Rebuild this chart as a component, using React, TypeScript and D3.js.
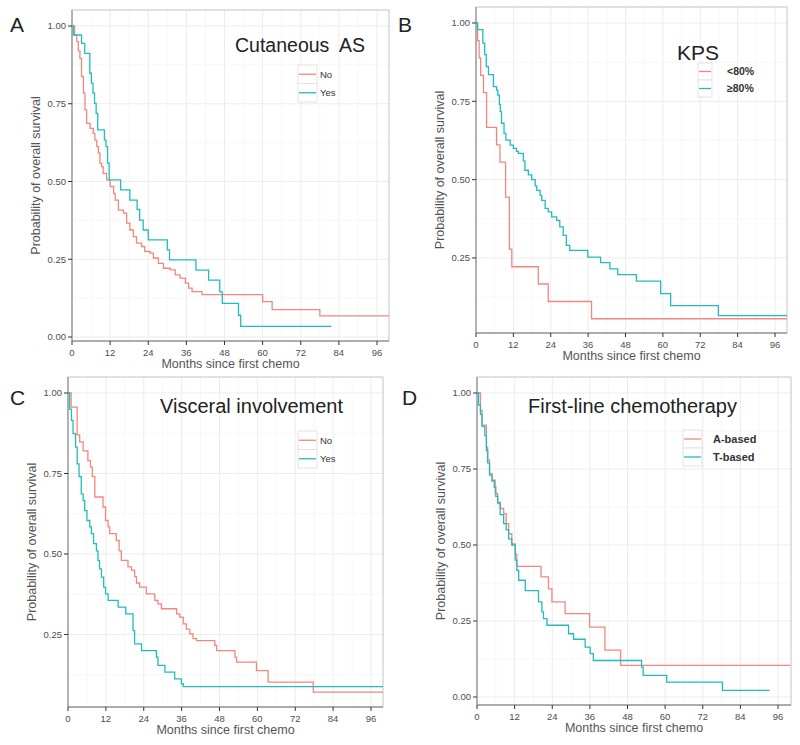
import React from 'react';
import * as d3 from 'd3';

// axis ticks shared by the four panels
const monthTicks = [0, 12, 24, 36, 48, 60, 72, 84, 96];
const survivalTicks = [0, 0.25, 0.5, 0.75, 1];

// A: cutaneous AS
const aNoTime = [0, 0.8, 1.5, 2, 2.5, 3, 3.6, 4.1, 4.6, 5.7, 6.7, 7.2, 7.8, 8.3, 8.8, 9.3, 9.8, 10.9, 12, 13.1, 13.6, 14.6, 16.2, 17.2, 18.2, 19.3, 20.3, 21.9, 22.9, 24.6, 25.6, 27.2, 28.8, 30.9, 32.5, 34, 35.7, 36.7, 37.8, 40.9, 60, 63, 78, 100];
const aNoSurv = [1, 0.97, 0.95, 0.92, 0.896, 0.837, 0.784, 0.73, 0.687, 0.671, 0.655, 0.633, 0.612, 0.591, 0.559, 0.548, 0.526, 0.505, 0.484, 0.462, 0.44, 0.408, 0.398, 0.366, 0.344, 0.323, 0.302, 0.291, 0.275, 0.27, 0.254, 0.237, 0.221, 0.216, 0.2, 0.189, 0.173, 0.157, 0.146, 0.136, 0.114, 0.088, 0.068, 0.068];
const aYesTime = [0, 0.4, 3, 4, 5.6, 6.1, 6.6, 7.1, 7.6, 8.1, 10.2, 10.7, 11.2, 11.7, 15.3, 18.2, 20.5, 21.3, 22.4, 24, 30, 30.7, 39, 43, 46.5, 47.3, 52.4, 53.1, 81.6];
const aYesSurv = [1, 0.971, 0.944, 0.912, 0.848, 0.816, 0.784, 0.751, 0.719, 0.666, 0.633, 0.612, 0.559, 0.505, 0.473, 0.44, 0.41, 0.376, 0.344, 0.312, 0.28, 0.248, 0.215, 0.183, 0.145, 0.108, 0.07, 0.034, 0.034];

// B: KPS
const bLowTime = [0, 0.5, 1, 1.5, 2.4, 3.4, 6.6, 7.7, 9.5, 10.7, 11.5, 20, 23.2, 37.1, 100];
const bLowSurv = [1, 0.944, 0.889, 0.833, 0.778, 0.667, 0.611, 0.556, 0.444, 0.278, 0.222, 0.167, 0.111, 0.056, 0.056];
const bHighTime = [0, 0.5, 2.2, 2.8, 3.3, 4, 5.6, 6.6, 7, 7.5, 7.8, 8.2, 9, 9.6, 11, 12, 13, 13.6, 15.2, 15.7, 16.8, 17.9, 19, 19.5, 20.6, 21.1, 22.2, 23.2, 24.3, 25.9, 26.9, 28, 29, 30.1, 35.9, 40, 43, 45.5, 51.5, 59.3, 62.5, 77.8, 100];
const bHighSurv = [1, 0.979, 0.936, 0.899, 0.861, 0.835, 0.797, 0.786, 0.77, 0.74, 0.717, 0.68, 0.648, 0.626, 0.61, 0.6, 0.59, 0.584, 0.56, 0.53, 0.515, 0.5, 0.48, 0.466, 0.45, 0.434, 0.408, 0.397, 0.381, 0.37, 0.349, 0.322, 0.29, 0.274, 0.253, 0.235, 0.215, 0.197, 0.176, 0.136, 0.098, 0.066, 0.066];

// C: visceral involvement
const cNoTime = [0, 1, 2.9, 3.7, 4.8, 6.3, 7.1, 7.7, 8.5, 11.1, 11.9, 12.7, 13.2, 15.3, 16.2, 16.9, 19, 20.1, 21.1, 21.7, 22.7, 24.8, 27.5, 28.5, 29.6, 34.4, 35.4, 36.5, 37.5, 38.6, 39.6, 40.7, 46.5, 47.1, 52.9, 53.4, 59.7, 63.4, 77.7, 100];
const cNoSurv = [1, 0.956, 0.87, 0.848, 0.82, 0.79, 0.77, 0.74, 0.677, 0.646, 0.604, 0.584, 0.563, 0.542, 0.51, 0.48, 0.46, 0.45, 0.43, 0.41, 0.397, 0.376, 0.356, 0.345, 0.33, 0.314, 0.304, 0.283, 0.267, 0.252, 0.237, 0.231, 0.216, 0.2, 0.18, 0.164, 0.138, 0.102, 0.071, 0.071];
const cYesTime = [0, 0.5, 1.1, 1.6, 2.4, 2.9, 3.5, 4.2, 4.8, 5.3, 6, 6.9, 7.4, 8.1, 9, 9.5, 10, 10.6, 11.3, 11.9, 12.7, 15.9, 18.3, 20.6, 21.1, 23.3, 28, 28.5, 30.7, 33.8, 35.9, 36.5, 100];
const cYesSurv = [1, 0.95, 0.915, 0.874, 0.832, 0.78, 0.74, 0.687, 0.666, 0.635, 0.604, 0.584, 0.563, 0.532, 0.51, 0.48, 0.454, 0.428, 0.397, 0.376, 0.356, 0.335, 0.314, 0.262, 0.221, 0.2, 0.18, 0.154, 0.133, 0.112, 0.097, 0.088, 0.088];

// D: first-line chemotherapy
const dATime = [0, 1.1, 1.6, 3, 3.4, 4, 4.8, 5.8, 6.6, 7.4, 8.5, 9.3, 10.1, 11.1, 12.2, 12.7, 20.4, 22.8, 23.9, 28.1, 35.9, 40.8, 45.8, 100];
const dASurv = [1, 0.943, 0.894, 0.822, 0.78, 0.735, 0.713, 0.67, 0.636, 0.62, 0.603, 0.57, 0.537, 0.504, 0.47, 0.43, 0.395, 0.356, 0.313, 0.274, 0.23, 0.154, 0.104, 0.104];
const dTTime = [0, 0.5, 1.1, 1.6, 2.5, 3, 3.4, 4, 4.8, 5.5, 6, 6.6, 7.4, 8.5, 9.3, 10.1, 11.1, 12.2, 12.7, 13.3, 15.4, 19.6, 20.7, 21.2, 22.3, 29.2, 30.8, 34.5, 36.1, 37.1, 52.5, 53, 60.5, 78.3, 93.3];
const dTSurv = [1, 0.96, 0.93, 0.89, 0.86, 0.81, 0.77, 0.73, 0.71, 0.69, 0.66, 0.64, 0.6, 0.57, 0.55, 0.52, 0.5, 0.45, 0.417, 0.384, 0.35, 0.313, 0.28, 0.258, 0.236, 0.208, 0.19, 0.164, 0.143, 0.12, 0.098, 0.071, 0.049, 0.022, 0.022];

const RED = '#F2877F';
const TEAL = '#22BCBF';
const FONT = "'Liberation Sans', Arial, Helvetica, sans-serif";

const panels = [
  {
    letter: 'A', letterPos: [10, 32], title: 'Cutaneous  AS', titlePos: [235, 52], titleSize: 19.5,
    frame: { l: 72, r: 389, t: 10, b: 341 }, x96: 377, y0: 337, y1: 26,
    legend: { x: 298, y: 65, w: 19, h: 18.5, textX: 320, size: 9.5, bold: false, labels: ['No', 'Yes'] },
    series: [{ time: aNoTime, surv: aNoSurv, color: RED }, { time: aYesTime, surv: aYesSurv, color: TEAL }],
  },
  {
    letter: 'B', letterPos: [398, 32], title: 'KPS', titlePos: [677, 60], titleSize: 21,
    frame: { l: 476, r: 787, t: 7, b: 333 }, x96: 775, y0: 336.3, y1: 23,
    legend: { x: 698, y: 63, w: 14, h: 17, textX: 727, size: 10.5, bold: true, labels: ['<80%', '≥80%'] },
    series: [{ time: bLowTime, surv: bLowSurv, color: RED }, { time: bHighTime, surv: bHighSurv, color: TEAL }],
  },
  {
    letter: 'C', letterPos: [10, 405], title: 'Visceral involvement', titlePos: [160, 413], titleSize: 20,
    frame: { l: 68, r: 383, t: 377, b: 707 }, x96: 371, y0: 715, y1: 393,
    legend: { x: 298, y: 431, w: 19, h: 18.5, textX: 320, size: 9.5, bold: false, labels: ['No', 'Yes'] },
    series: [{ time: cNoTime, surv: cNoSurv, color: RED }, { time: cYesTime, surv: cYesSurv, color: TEAL }],
  },
  {
    letter: 'D', letterPos: [402, 405], title: 'First-line chemotherapy', titlePos: [528, 413], titleSize: 20,
    frame: { l: 477, r: 791, t: 377, b: 705 }, x96: 778, y0: 697, y1: 393,
    legend: { x: 683, y: 430, w: 19, h: 18, textX: 713, size: 11, bold: true, labels: ['A-based', 'T-based'] },
    series: [{ time: dATime, surv: dASurv, color: RED }, { time: dTTime, surv: dTSurv, color: TEAL }],
  },
];

type PanelDef = (typeof panels)[number];

const Panel = ({ p }: { p: PanelDef }) => {
  const { l, r, t, b } = p.frame;
  const x = d3.scaleLinear().domain([0, 96]).range([l, p.x96]);
  const y = d3.scaleLinear().domain([0, 1]).range([p.y0, p.y1]);

  const line = d3
    .line<[number, number]>()
    .x((d) => x(d[0]))
    .y((d) => y(d[1]))
    .curve(d3.curveStepAfter);

  const inY = (v: number) => y(v) <= b + 0.5 && y(v) >= t;
  const inX = (m: number) => x(m) >= l && x(m) <= r;
  const yMajor = survivalTicks.filter(inY);
  const yMinor = d3.pairs(survivalTicks).map(([a, c]) => (a + c) / 2).filter(inY);
  const xMajor = monthTicks.filter(inX);
  const xMinor = d3.pairs(monthTicks).map(([a, c]) => (a + c) / 2).filter(inX);
  const fmt = d3.format('.2f');
  const clipId = `clip-${p.letter}`;
  const lg = p.legend;

  return (
    <g>
      <defs>
        <clipPath id={clipId}>
          <rect x={l} y={t} width={r - l} height={b - t} />
        </clipPath>
      </defs>

      {/* grid */}
      {xMinor.map((m) => (
        <line key={'xm' + m} x1={x(m)} x2={x(m)} y1={t} y2={b} stroke="#f5f5f5" strokeWidth={0.8} />
      ))}
      {yMinor.map((v) => (
        <line key={'ym' + v} x1={l} x2={r} y1={y(v)} y2={y(v)} stroke="#f5f5f5" strokeWidth={0.8} />
      ))}
      {xMajor.map((m) => (
        <line key={'xg' + m} x1={x(m)} x2={x(m)} y1={t} y2={b} stroke="#ececec" strokeWidth={1} />
      ))}
      {yMajor.map((v) => (
        <line key={'yg' + v} x1={l} x2={r} y1={y(v)} y2={y(v)} stroke="#ececec" strokeWidth={1} />
      ))}

      {/* frame */}
      <rect x={l} y={t} width={r - l} height={b - t} fill="none" stroke="#c4c4c4" strokeWidth={1} />
      <line x1={l} x2={l} y1={t} y2={b} stroke="#9a9a9a" strokeWidth={1.3} />
      <line x1={l} x2={r} y1={b} y2={b} stroke="#9a9a9a" strokeWidth={1.3} />

      {/* survival curves */}
      <g clipPath={`url(#${clipId})`}>
        {p.series.map((s, i) => (
          <path
            key={i}
            d={line(s.time.map((tm, j) => [tm, s.surv[j]] as [number, number])) || ''}
            fill="none"
            stroke={s.color}
            strokeWidth={1.3}
          />
        ))}
      </g>

      {/* y axis */}
      {yMajor.map((v) => (
        <g key={'yt' + v}>
          <line x1={l - 4} x2={l} y1={y(v)} y2={y(v)} stroke="#333" strokeWidth={1} />
          <text x={l - 6} y={y(v)} dy="0.35em" textAnchor="end" fontSize={9.5} fill="#4d4d4d" fontFamily={FONT}>
            {fmt(v)}
          </text>
        </g>
      ))}
      {/* x axis */}
      {xMajor.map((m) => (
        <g key={'xt' + m}>
          <line x1={x(m)} x2={x(m)} y1={b} y2={b + 4} stroke="#333" strokeWidth={1} />
          <text x={x(m)} y={b + 15} textAnchor="middle" fontSize={9.5} fill="#4d4d4d" fontFamily={FONT}>
            {m}
          </text>
        </g>
      ))}
      <text x={(l + r) / 2} y={b + 27} textAnchor="middle" fontSize={12.5} fill="#555" fontFamily={FONT}>
        Months since first chemo
      </text>
      <text
        transform={`translate(${l - 36},${(t + b) / 2}) rotate(-90)`}
        textAnchor="middle"
        dy="0.35em"
        fontSize={12.5}
        fill="#555"
        fontFamily={FONT}
      >
        Probability of overall survival
      </text>

      {/* title and panel letter */}
      <text x={p.titlePos[0]} y={p.titlePos[1]} fontSize={p.titleSize} fill="#222" fontFamily={FONT} style={{ whiteSpace: 'pre' }}>
        {p.title}
      </text>
      <text x={p.letterPos[0]} y={p.letterPos[1]} fontSize={21} fill="#222" fontFamily={FONT}>
        {p.letter}
      </text>

      {/* legend */}
      {lg.labels.map((lab, i) => {
        const cy = lg.y + lg.h * i + lg.h / 2;
        return (
          <g key={lab}>
            <rect x={lg.x} y={lg.y + lg.h * i} width={lg.w} height={lg.h} fill="#fff" stroke="#dcdcdc" strokeWidth={0.8} />
            <line x1={lg.x + 1} x2={lg.x + lg.w - 1} y1={cy} y2={cy} stroke={p.series[i].color} strokeWidth={1.3} />
            <text
              x={lg.textX}
              y={cy}
              dy="0.35em"
              fontSize={lg.size}
              fontWeight={lg.bold ? 'bold' : 'normal'}
              fill="#333"
              fontFamily={FONT}
            >
              {lab}
            </text>
          </g>
        );
      })}
    </g>
  );
};

export default function App() {
  return (
    <svg
      width={800}
      height={745}
      viewBox="0 0 800 745"
      style={{ position: 'absolute', left: 0, top: 0, background: '#fff' }}
    >
      <rect width={800} height={745} fill="#fff" />
      {panels.map((p) => (
        <Panel key={p.letter} p={p} />
      ))}
    </svg>
  );
}
